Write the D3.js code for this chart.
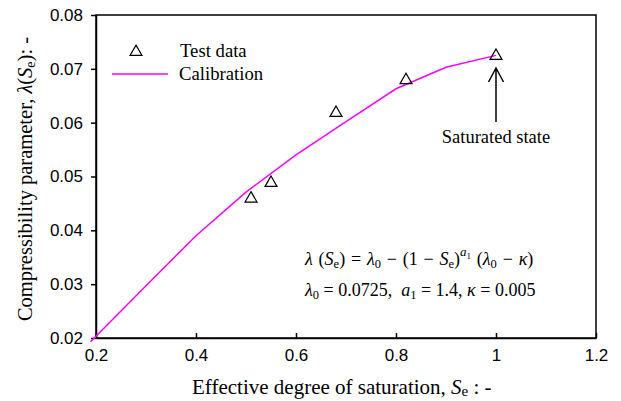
<!DOCTYPE html>
<html>
<head>
<meta charset="utf-8">
<script src="https://cdn.jsdelivr.net/npm/d3@7"></script>
<style>
  body { margin: 0; background: #fff; }
  svg { display: block; }
  text { white-space: pre; }
</style>
</head>
<body>
<div class="chart"></div>
<script>
// test data
const testSe = [0.51, 0.55, 0.68, 0.82, 1.0];
const testLambda = [0.0459, 0.0488, 0.0618, 0.0679, 0.0724];

// calibration curve vertices
const calSe = [0.189, 0.3, 0.4, 0.5, 0.6, 0.7, 0.8, 0.9, 1.0];
const calLambda = [0.0193, 0.0297, 0.039, 0.0471, 0.054, 0.0602, 0.0663, 0.0703, 0.0725];

const xTicks = [0.2, 0.4, 0.6, 0.8, 1.0, 1.2];
const yTicks = [0.02, 0.03, 0.04, 0.05, 0.06, 0.07, 0.08];
const xTickLabels = ["0.2", "0.4", "0.6", "0.8", "1", "1.2"];
const yTickLabels = ["0.02", "0.03", "0.04", "0.05", "0.06", "0.07", "0.08"];

const width = 621;
const height = 401;
const margin = { top: 15, right: 25, bottom: 63, left: 96 };

const serif = "Liberation Serif";
const sans = "Liberation Sans";

const x = d3.scaleLinear()
  .domain([0.2, 1.2])
  .range([margin.left, width - margin.right]);

const y = d3.scaleLinear()
  .domain([0.02, 0.08])
  .range([height - margin.bottom, margin.top]);

const svg = d3.select(".chart")
  .append("svg")
  .attr("width", width)
  .attr("height", height);

// frame
svg.append("rect")
  .attr("x", x(0.2))
  .attr("y", y(0.08))
  .attr("width", x(1.2) - x(0.2))
  .attr("height", y(0.02) - y(0.08))
  .attr("fill", "none")
  .attr("stroke", "#000")
  .attr("stroke-width", 1.5);

// x axis, ticks pointing inward
const xAxis = svg.append("g")
  .attr("transform", `translate(0,${y(0.02)})`)
  .call(d3.axisBottom(x)
    .tickValues(xTicks)
    .tickFormat((d, i) => xTickLabels[i])
    .tickSizeInner(-5)
    .tickSizeOuter(0)
    .tickPadding(11));

// y axis, ticks pointing outward
const yAxis = svg.append("g")
  .attr("transform", `translate(${x(0.2)},0)`)
  .call(d3.axisLeft(y)
    .tickValues(yTicks)
    .tickFormat((d, i) => yTickLabels[i])
    .tickSizeInner(5)
    .tickSizeOuter(0)
    .tickPadding(8));

[xAxis, yAxis].forEach(g => {
  g.select(".domain").attr("stroke-width", 1.5);
  g.selectAll(".tick line").attr("stroke-width", 1.5);
  g.selectAll(".tick text")
    .attr("font-family", sans)
    .attr("font-size", 17)
    .attr("fill", "#000");
});

// calibration line
const line = d3.line()
  .x(d => x(d[0]))
  .y(d => y(d[1]));

svg.append("path")
  .datum(calSe.map((s, i) => [s, calLambda[i]]))
  .attr("d", line)
  .attr("fill", "none")
  .attr("stroke", "#ff00ff")
  .attr("stroke-width", 1.5);

// test data triangles
const tri = d3.symbol().type(d3.symbolTriangle).size(62);

svg.append("g")
  .selectAll("path")
  .data(testSe.map((s, i) => [s, testLambda[i]]))
  .join("path")
  .attr("d", tri)
  .attr("transform", d => `translate(${x(d[0])},${y(d[1])})`)
  .attr("fill", "none")
  .attr("stroke", "#000")
  .attr("stroke-width", 1.2);

// legend
const legend = svg.append("g")
  .attr("font-family", serif)
  .attr("font-size", 18.7);

legend.append("path")
  .attr("d", tri)
  .attr("transform", "translate(136,52)")
  .attr("fill", "none")
  .attr("stroke", "#000")
  .attr("stroke-width", 1.2);

legend.append("text").attr("x", 180).attr("y", 57).text("Test data");

legend.append("line")
  .attr("x1", 112).attr("x2", 168)
  .attr("y1", 74).attr("y2", 74)
  .attr("stroke", "#ff00ff")
  .attr("stroke-width", 1.5);

legend.append("text").attr("x", 179).attr("y", 80).text("Calibration");

// saturated state arrow
const ax = x(1.0);
svg.append("path")
  .attr("d", `M${ax},122 V68 M${ax - 7.5},82 L${ax},68 L${ax + 7.5},82`)
  .attr("fill", "none")
  .attr("stroke", "#000")
  .attr("stroke-width", 1.5);

svg.append("text")
  .attr("x", ax)
  .attr("y", 143)
  .attr("text-anchor", "middle")
  .attr("font-family", serif)
  .attr("font-size", 18.5)
  .text("Saturated state");

// equation
const eq = svg.append("g")
  .attr("font-family", serif)
  .attr("font-size", 18);

const eq1 = eq.append("text").attr("x", 305).attr("y", 265).attr("word-spacing", 1.3);
eq1.append("tspan").attr("font-style", "italic").text("λ");
eq1.append("tspan").text(" (");
eq1.append("tspan").attr("font-style", "italic").text("S");
eq1.append("tspan").attr("font-size", 12.5).attr("dy", 3).text("e");
eq1.append("tspan").attr("dy", -3).text(") = ");
eq1.append("tspan").attr("font-style", "italic").text("λ");
eq1.append("tspan").attr("font-size", 12.5).attr("dy", 3).text("0");
eq1.append("tspan").attr("dy", -3).text(" − (1 − ");
eq1.append("tspan").attr("font-style", "italic").text("S");
eq1.append("tspan").attr("font-size", 12.5).attr("dy", 3).text("e");
eq1.append("tspan").attr("dy", -3).text(")");
eq1.append("tspan").attr("font-style", "italic").attr("font-size", 13).attr("dy", -9).text("a");
eq1.append("tspan").attr("font-size", 9).attr("dy", 3).text("1");
eq1.append("tspan").attr("dy", 6).text(" (");
eq1.append("tspan").attr("font-style", "italic").text("λ");
eq1.append("tspan").attr("font-size", 12.5).attr("dy", 3).text("0");
eq1.append("tspan").attr("dy", -3).text(" − ");
eq1.append("tspan").attr("font-style", "italic").text("κ");
eq1.append("tspan").text(")");

const eq2 = eq.append("text").attr("x", 305).attr("y", 296);
eq2.append("tspan").attr("font-style", "italic").text("λ");
eq2.append("tspan").attr("font-size", 12.5).attr("dy", 3).text("0");
eq2.append("tspan").attr("dy", -3).text(" = 0.0725,  ");
eq2.append("tspan").attr("font-style", "italic").text("a");
eq2.append("tspan").attr("font-size", 12.5).attr("dy", 3).text("1");
eq2.append("tspan").attr("dy", -3).text(" = 1.4, ");
eq2.append("tspan").attr("font-style", "italic").text("κ");
eq2.append("tspan").text(" = 0.005");

// axis titles
const xt = svg.append("text")
  .attr("x", 192)
  .attr("y", 394)
  .attr("font-family", serif)
  .attr("font-size", 21);
xt.append("tspan").text("Effective degree of saturation, ");
xt.append("tspan").attr("font-style", "italic").text("S");
xt.append("tspan").attr("font-size", 15).attr("dy", 2).text("e");
xt.append("tspan").attr("dy", -2).text(" : -");

const yt = svg.append("text")
  .attr("transform", `translate(32,179) rotate(-90)`)
  .attr("text-anchor", "middle")
  .attr("font-family", serif)
  .attr("font-size", 20.5);
yt.append("tspan").text("Compressibility parameter, ");
yt.append("tspan").attr("font-style", "italic").text("λ");
yt.append("tspan").text("(");
yt.append("tspan").attr("font-style", "italic").text("S");
yt.append("tspan").attr("font-size", 14).attr("dy", 3).text("e");
yt.append("tspan").attr("dy", -3).text("): -");
</script>
</body>
</html>
